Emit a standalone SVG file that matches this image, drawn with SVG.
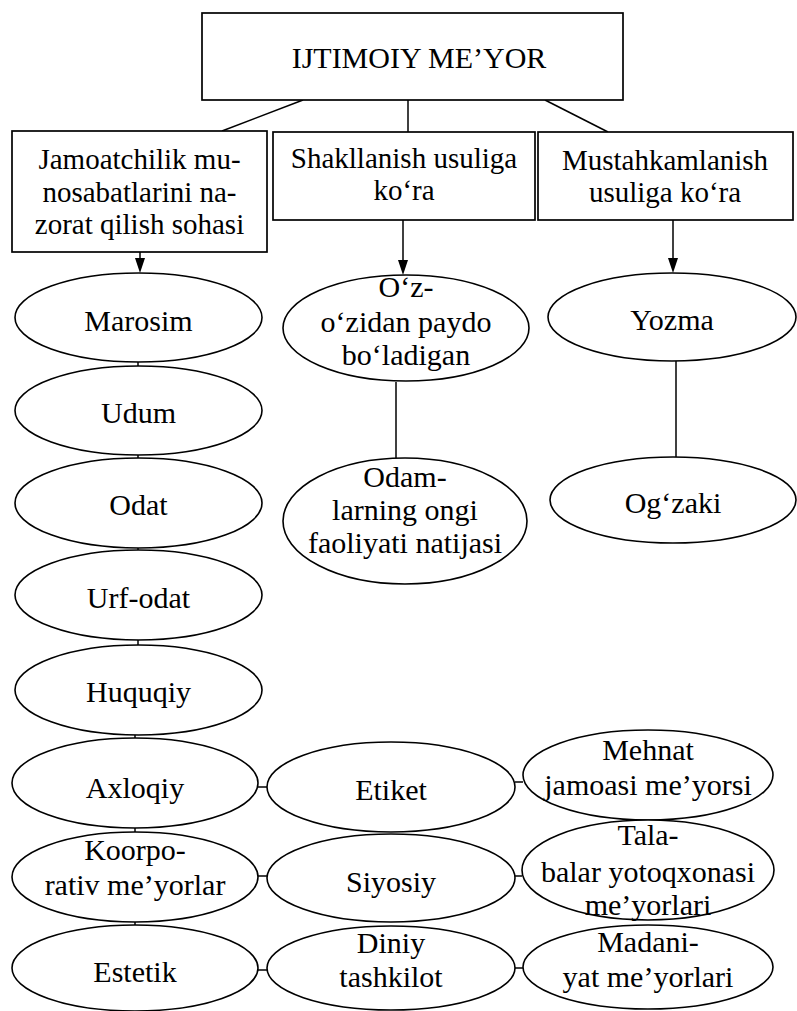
<svg xmlns="http://www.w3.org/2000/svg" width="797" height="1011" viewBox="0 0 797 1011">
<style>
  .bx { fill: #fff; stroke: #000; stroke-width: 1.7; }
  .el { fill: #fff; stroke: #000; stroke-width: 1.6; }
  .ln { fill: none; stroke: #000; stroke-width: 1.5; }
  .ah { fill: #000; }
  text { font-family: "Liberation Serif", "Times New Roman", serif; fill: #000; text-anchor: middle; }
  .t1 { font-size: 30px; }
  .tb { font-size: 29px; }
  .te { font-size: 30px; }
</style>

<g id="connectors">
  <line class="ln" x1="303" y1="100" x2="222" y2="131"/>
  <line class="ln" x1="408" y1="100" x2="408" y2="132"/>
  <line class="ln" x1="545" y1="100" x2="608" y2="132"/>
  <line class="ln" x1="140" y1="252" x2="140" y2="262"/>
  <path class="ah" d="M135,258 L145,258 L140,273 Z"/>
  <line class="ln" x1="403" y1="220" x2="403" y2="262"/>
  <path class="ah" d="M398,260 L408,260 L403,275 Z"/>
  <line class="ln" x1="673" y1="220" x2="673" y2="260"/>
  <path class="ah" d="M668,258 L678,258 L673,273 Z"/>
  <line class="ln" x1="138" y1="362" x2="138" y2="366"/>
  <line class="ln" x1="138" y1="455" x2="138" y2="458"/>
  <line class="ln" x1="138" y1="548" x2="138" y2="550"/>
  <line class="ln" x1="138" y1="640" x2="138" y2="645"/>
  <line class="ln" x1="135" y1="735" x2="135" y2="738"/>
  <line class="ln" x1="135" y1="828" x2="135" y2="832"/>
  <line class="ln" x1="135" y1="922" x2="135" y2="925"/>
  <line class="ln" x1="396" y1="382" x2="396" y2="458"/>
  <line class="ln" x1="676" y1="360" x2="676" y2="457"/>
  <line class="ln" x1="258" y1="787" x2="267" y2="787"/>
  <line class="ln" x1="258" y1="876" x2="267" y2="876"/>
  <line class="ln" x1="258" y1="970" x2="267" y2="970"/>
  <line class="ln" x1="515" y1="782" x2="523" y2="782"/>
  <line class="ln" x1="515" y1="876" x2="522" y2="876"/>
  <line class="ln" x1="515" y1="968" x2="523" y2="968"/>
</g>

<g id="root">
  <rect class="bx" x="202" y="13" width="421" height="87"/>
  <text class="t1" x="419" y="68">IJTIMOIY ME’YOR</text>
</g>

<g id="box-jamoatchilik">
  <rect class="bx" x="12" y="131" width="255" height="121"/>
  <text class="tb" x="139.5" y="169">Jamoatchilik mu-</text>
  <text class="tb" x="139.5" y="202">nosabatlarini na-</text>
  <text class="tb" x="139.5" y="234">zorat qilish sohasi</text>
</g>
<g id="box-shakllanish">
  <rect class="bx" x="273" y="132" width="262" height="88"/>
  <text class="tb" x="404" y="168">Shakllanish usuliga</text>
  <text class="tb" x="404" y="200">ko‘ra</text>
</g>
<g id="box-mustahkamlanish">
  <rect class="bx" x="538" y="132" width="255" height="88"/>
  <text class="tb" x="665" y="170">Mustahkamlanish</text>
  <text class="tb" x="665" y="202">usuliga ko‘ra</text>
</g>

<g id="marosim">
  <ellipse class="el" cx="138.5" cy="317.5" rx="123.5" ry="44.5"/>
  <text class="te" x="138.5" y="331">Marosim</text>
</g>
<g id="udum">
  <ellipse class="el" cx="138.5" cy="410.5" rx="123.5" ry="44.5"/>
  <text class="te" x="138.5" y="423">Udum</text>
</g>
<g id="odat">
  <ellipse class="el" cx="138.5" cy="503" rx="123.5" ry="45"/>
  <text class="te" x="138.5" y="515">Odat</text>
</g>
<g id="urf-odat">
  <ellipse class="el" cx="138.5" cy="595" rx="123.5" ry="45"/>
  <text class="te" x="138.5" y="608">Urf-odat</text>
</g>
<g id="huquqiy">
  <ellipse class="el" cx="138.5" cy="690" rx="123.5" ry="45"/>
  <text class="te" x="138.5" y="702">Huquqiy</text>
</g>
<g id="axloqiy">
  <ellipse class="el" cx="135" cy="783" rx="123" ry="45"/>
  <text class="te" x="135" y="798">Axloqiy</text>
</g>
<g id="koorporativ">
  <ellipse class="el" cx="135" cy="877" rx="123" ry="45"/>
  <text class="te" x="135" y="860">Koorpo-</text>
  <text class="te" x="135" y="895">rativ me’yorlar</text>
</g>
<g id="estetik">
  <ellipse class="el" cx="135" cy="968" rx="123" ry="43"/>
  <text class="te" x="135" y="982">Estetik</text>
</g>

<g id="ozozidan">
  <ellipse class="el" cx="406" cy="328" rx="123" ry="53"/>
  <text class="te" x="406" y="297">O‘z-</text>
  <text class="te" x="406" y="332">o‘zidan paydo</text>
  <text class="te" x="406" y="365">bo‘ladigan</text>
</g>
<g id="odamlarning">
  <ellipse class="el" cx="405" cy="521" rx="122" ry="63"/>
  <text class="te" x="405" y="487">Odam-</text>
  <text class="te" x="405" y="520">larning ongi</text>
  <text class="te" x="405" y="553">faoliyati natijasi</text>
</g>

<g id="yozma">
  <ellipse class="el" cx="672" cy="317" rx="124" ry="44"/>
  <text class="te" x="672" y="330">Yozma</text>
</g>
<g id="ogzaki">
  <ellipse class="el" cx="673" cy="500" rx="123" ry="43"/>
  <text class="te" x="673" y="513">Og‘zaki</text>
</g>

<g id="etiket">
  <ellipse class="el" cx="391" cy="787" rx="124" ry="45"/>
  <text class="te" x="391" y="800">Etiket</text>
</g>
<g id="siyosiy">
  <ellipse class="el" cx="391" cy="878" rx="124" ry="44"/>
  <text class="te" x="391" y="892">Siyosiy</text>
</g>
<g id="diniy">
  <ellipse class="el" cx="391" cy="968" rx="124" ry="42"/>
  <text class="te" x="391" y="953">Diniy</text>
  <text class="te" x="391" y="987">tashkilot</text>
</g>

<g id="mehnat">
  <ellipse class="el" cx="648" cy="775" rx="125" ry="45"/>
  <text class="te" x="648" y="760">Mehnat</text>
  <text class="te" x="648" y="795">jamoasi me’yorsi</text>
</g>
<g id="talabalar">
  <ellipse class="el" cx="648" cy="870" rx="126" ry="50"/>
  <text class="te" x="648" y="845">Tala-</text>
  <text class="te" x="648" y="882">balar yotoqxonasi</text>
  <text class="te" x="648" y="915">me’yorlari</text>
</g>
<g id="madaniyat">
  <ellipse class="el" cx="648" cy="967" rx="125" ry="42"/>
  <text class="te" x="648" y="952">Madani-</text>
  <text class="te" x="648" y="987">yat me’yorlari</text>
</g>
</svg>
